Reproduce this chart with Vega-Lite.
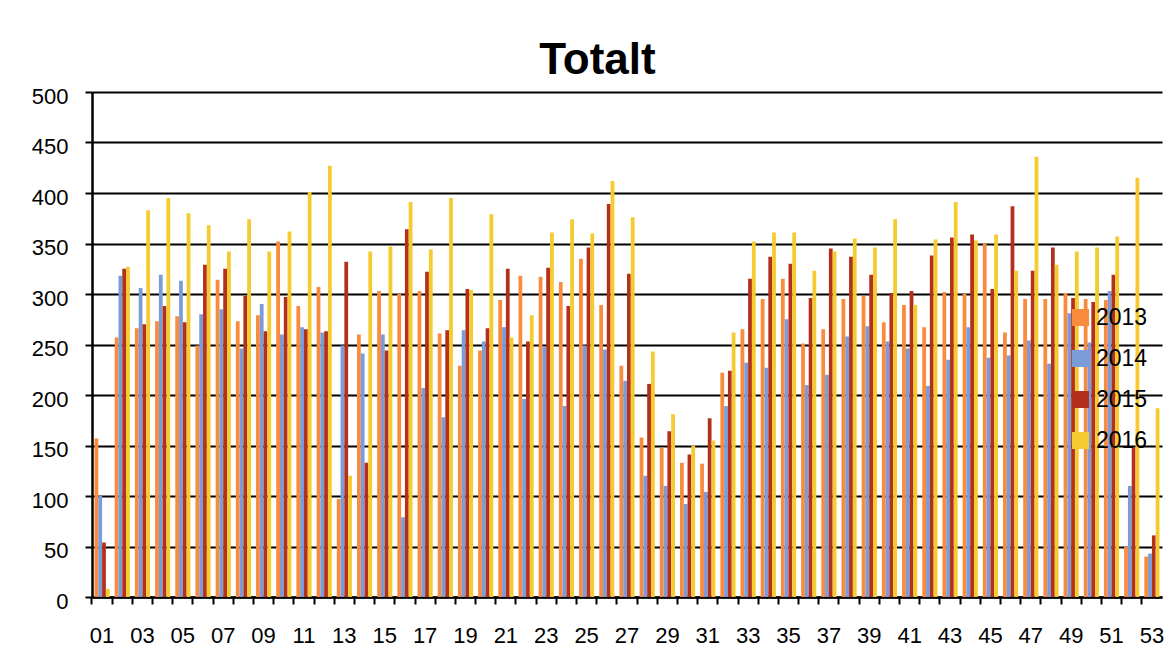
{
  "$schema": "https://vega.github.io/schema/vega-lite/v6.json",
  "width": 1070,
  "height": 505,
  "autosize": {"type": "none"},
  "padding": {"left": 92, "top": 92, "right": 14, "bottom": 51},
  "background": "white",
  "title": {"text": "Totalt", "fontSize": 44, "font": "Liberation Sans", "fontWeight": "bold", "color": "black", "anchor": "middle", "frame": "bounds", "offset": -33, "baseline": "alphabetic"},
  "data": {"values": [
    {"w":"01","2013":157,"2014":100,"2015":54,"2016":8},
    {"w":"02","2013":257,"2014":318,"2015":325,"2016":327},
    {"w":"03","2013":266,"2014":306,"2015":270,"2016":383},
    {"w":"04","2013":273,"2014":319,"2015":288,"2016":395},
    {"w":"05","2013":278,"2014":313,"2015":272,"2016":380},
    {"w":"06","2013":249,"2014":280,"2015":329,"2016":368},
    {"w":"07","2013":314,"2014":285,"2015":325,"2016":342},
    {"w":"08","2013":273,"2014":246,"2015":298,"2016":374},
    {"w":"09","2013":279,"2014":290,"2015":263,"2016":342},
    {"w":"10","2013":352,"2014":260,"2015":297,"2016":362},
    {"w":"11","2013":288,"2014":267,"2015":265,"2016":401},
    {"w":"12","2013":307,"2014":262,"2015":263,"2016":427},
    {"w":"13","2013":97,"2014":249,"2015":332,"2016":120},
    {"w":"14","2013":260,"2014":241,"2015":133,"2016":342},
    {"w":"15","2013":303,"2014":260,"2015":244,"2016":347},
    {"w":"16","2013":300,"2014":79,"2015":364,"2016":391},
    {"w":"17","2013":303,"2014":207,"2015":322,"2016":344},
    {"w":"18","2013":261,"2014":178,"2015":264,"2016":395},
    {"w":"19","2013":229,"2014":264,"2015":305,"2016":304},
    {"w":"20","2013":244,"2014":253,"2015":266,"2016":379},
    {"w":"21","2013":294,"2014":267,"2015":325,"2016":257},
    {"w":"22","2013":318,"2014":196,"2015":253,"2016":279},
    {"w":"23","2013":317,"2014":248,"2015":326,"2016":361},
    {"w":"24","2013":312,"2014":189,"2015":288,"2016":374},
    {"w":"25","2013":335,"2014":249,"2015":346,"2016":360},
    {"w":"26","2013":289,"2014":245,"2015":389,"2016":412},
    {"w":"27","2013":229,"2014":214,"2015":320,"2016":376},
    {"w":"28","2013":158,"2014":120,"2015":211,"2016":243},
    {"w":"29","2013":148,"2014":110,"2015":164,"2016":181},
    {"w":"30","2013":133,"2014":92,"2015":141,"2016":150},
    {"w":"31","2013":132,"2014":104,"2015":177,"2016":155},
    {"w":"32","2013":222,"2014":189,"2015":224,"2016":262},
    {"w":"33","2013":265,"2014":232,"2015":315,"2016":352},
    {"w":"34","2013":295,"2014":227,"2015":337,"2016":361},
    {"w":"35","2013":315,"2014":275,"2015":330,"2016":361},
    {"w":"36","2013":251,"2014":210,"2015":296,"2016":323},
    {"w":"37","2013":265,"2014":220,"2015":345,"2016":342},
    {"w":"38","2013":295,"2014":258,"2015":337,"2016":355},
    {"w":"39","2013":298,"2014":268,"2015":319,"2016":346},
    {"w":"40","2013":272,"2014":253,"2015":301,"2016":374},
    {"w":"41","2013":289,"2014":246,"2015":303,"2016":289},
    {"w":"42","2013":267,"2014":209,"2015":338,"2016":354},
    {"w":"43","2013":302,"2014":235,"2015":356,"2016":391},
    {"w":"44","2013":300,"2014":267,"2015":359,"2016":353},
    {"w":"45","2013":350,"2014":237,"2015":305,"2016":359},
    {"w":"46","2013":262,"2014":239,"2015":387,"2016":323},
    {"w":"47","2013":295,"2014":254,"2015":323,"2016":436},
    {"w":"48","2013":295,"2014":231,"2015":346,"2016":329},
    {"w":"49","2013":301,"2014":281,"2015":296,"2016":342},
    {"w":"50","2013":295,"2014":252,"2015":292,"2016":346},
    {"w":"51","2013":294,"2014":303,"2015":319,"2016":357},
    {"w":"52","2013":50,"2014":110,"2015":148,"2016":415},
    {"w":"53","2013":40,"2014":43,"2015":61,"2016":187}
  ]},
  "transform": [{"fold": ["2013", "2014", "2015", "2016"], "as": ["year", "value"]}],
  "mark": {"type": "bar"},
  "encoding": {
    "x": {
      "field": "w", "type": "nominal", "sort": null,
      "scale": {"paddingInner": 0.25, "paddingOuter": 0.125},
      "axis": {
        "title": null, "labelAngle": 0, "bandPosition": -0.1667, "labelOffset": 0,
        "labelExpr": "parseInt(datum.value) % 2 == 1 ? datum.value : ''",
        "labelFont": "Liberation Sans", "labelFontSize": 22, "labelColor": "black",
        "labelPadding": 21, "labelBaseline": "top", "labelOverlap": false,
        "domainColor": "black", "domainWidth": 2.5, "tickColor": "black", "tickWidth": 2, "tickSize": 7,
        "grid": false
      }
    },
    "xOffset": {"field": "year", "type": "nominal", "scale": {"paddingInner": 0, "paddingOuter": 0}},
    "y": {
      "field": "value", "type": "quantitative",
      "scale": {"domain": [0, 500], "nice": false},
      "axis": {
        "title": null, "values": [0, 50, 100, 150, 200, 250, 300, 350, 400, 450, 500],
        "labelFont": "Liberation Sans", "labelFontSize": 22, "labelColor": "black",
        "labelPadding": 17, "labelOffset": 4,
        "domainColor": "black", "domainWidth": 2.5, "tickColor": "black", "tickWidth": 2, "tickSize": 7,
        "grid": true, "gridColor": "black", "gridWidth": 2
      }
    },
    "color": {
      "field": "year", "type": "nominal",
      "scale": {"domain": ["2013", "2014", "2015", "2016"], "range": ["#F98B3C", "#7B9CD8", "#B3301C", "#F5CB2F"]},
      "legend": {
        "title": null, "orient": "none", "legendX": 977, "legendY": 214,
        "symbolType": "square", "symbolSize": 289, "symbolStrokeWidth": 0, "symbolOpacity": 1,
        "labelFont": "Liberation Sans", "labelFontSize": 23, "labelColor": "black",
        "labelOffset": 4, "rowPadding": 17
      }
    }
  },
  "config": {"view": {"stroke": null}}
}
